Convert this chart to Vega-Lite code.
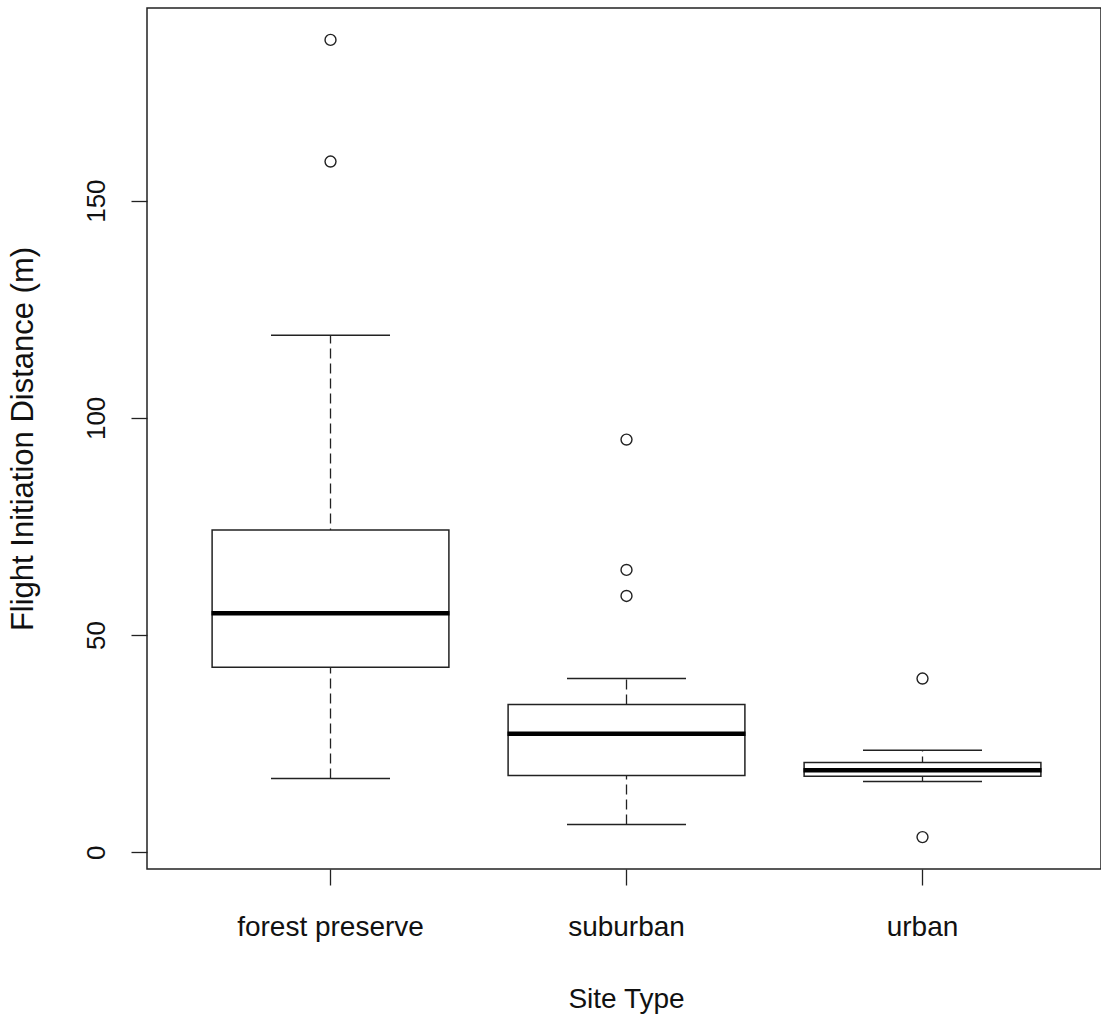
{
  "$schema": "https://vega.github.io/schema/vega-lite/v6.json",
  "autosize": {"type": "none"},
  "padding": {"left": 147, "top": 8, "right": 0, "bottom": 148},
  "width": 954,
  "height": 861,
  "background": "white",
  "config": {
    "view": {"stroke": "#222222", "strokeWidth": 1.5},
    "font": "Liberation Sans"
  },
  "datasets": {
    "stats": [
      {"site": "forest preserve", "lower": 17, "q1": 42.6, "median": 55, "q3": 74.2, "upper": 119},
      {"site": "suburban", "lower": 6.4, "q1": 17.7, "median": 27.3, "q3": 34.0, "upper": 40},
      {"site": "urban", "lower": 16.3, "q1": 17.5, "median": 18.9, "q3": 20.7, "upper": 23.5}
    ],
    "outliers": [
      {"site": "forest preserve", "value": 187},
      {"site": "forest preserve", "value": 159},
      {"site": "suburban", "value": 95},
      {"site": "suburban", "value": 65},
      {"site": "suburban", "value": 59},
      {"site": "urban", "value": 40},
      {"site": "urban", "value": 3.5}
    ]
  },
  "encoding": {
    "x": {
      "field": "site",
      "type": "nominal",
      "sort": ["forest preserve", "suburban", "urban"],
      "scale": {"paddingInner": 0.2, "paddingOuter": 0.2115, "align": 0.52},
      "axis": {
        "title": "Site Type",
        "domain": false,
        "grid": false,
        "labelAngle": 0,
        "labelFontSize": 28,
        "labelLimit": 0,
        "labelOverlap": false,
        "labelColor": "#111111",
        "labelBaseline": "alphabetic",
        "labelPadding": 50,
        "tickSize": 16,
        "tickColor": "#222222",
        "tickWidth": 1.3,
        "titleFontSize": 28,
        "titleFontWeight": "normal",
        "titleColor": "#111111",
        "titleBaseline": "alphabetic",
        "titleAlign": "center",
        "titleX": 479,
        "titleY": 138
      }
    }
  },
  "layer": [
    {
      "data": {"name": "stats"},
      "mark": {"type": "rule", "color": "#222222", "strokeWidth": 1.3, "strokeDash": [10, 5]},
      "encoding": {
        "y": {
          "field": "lower",
          "type": "quantitative",
          "scale": {"domain": [-3.84, 194.34], "nice": false, "zero": false},
          "axis": {
            "title": "Flight Initiation Distance (m)",
            "values": [0, 50, 100, 150],
            "domain": false,
            "grid": false,
            "labelAngle": -90,
            "labelAlign": "center",
            "labelBaseline": "alphabetic",
            "labelFontSize": 26,
            "labelColor": "#111111",
            "labelPadding": 27,
            "tickSize": 16,
            "tickColor": "#222222",
            "tickWidth": 1.3,
            "titleFontSize": 31,
            "titleFontWeight": "normal",
            "titleColor": "#111111",
            "titleAngle": -90,
            "titleAlign": "center",
            "titleBaseline": "alphabetic",
            "titleLimit": 0,
            "titleX": -115,
            "titleY": 430.5
          }
        },
        "y2": {"field": "upper"}
      }
    },
    {
      "data": {"name": "stats"},
      "mark": {"type": "bar", "fill": "white", "stroke": "#222222", "strokeWidth": 1.5},
      "encoding": {
        "y": {"field": "q1", "type": "quantitative"},
        "y2": {"field": "q3"}
      }
    },
    {
      "data": {"name": "stats"},
      "mark": {"type": "tick", "color": "black", "size": 238, "thickness": 4.5, "opacity": 1},
      "encoding": {
        "y": {"field": "median", "type": "quantitative"}
      }
    },
    {
      "data": {"name": "stats"},
      "mark": {"type": "tick", "color": "#222222", "size": 119, "thickness": 1.4, "opacity": 1},
      "encoding": {
        "y": {"field": "upper", "type": "quantitative"}
      }
    },
    {
      "data": {"name": "stats"},
      "mark": {"type": "tick", "color": "#222222", "size": 119, "thickness": 1.4, "opacity": 1},
      "encoding": {
        "y": {"field": "lower", "type": "quantitative"}
      }
    },
    {
      "data": {"name": "outliers"},
      "mark": {"type": "point", "shape": "circle", "filled": false, "size": 120, "stroke": "#222222", "strokeWidth": 1.4, "opacity": 1},
      "encoding": {
        "y": {"field": "value", "type": "quantitative"}
      }
    }
  ]
}
